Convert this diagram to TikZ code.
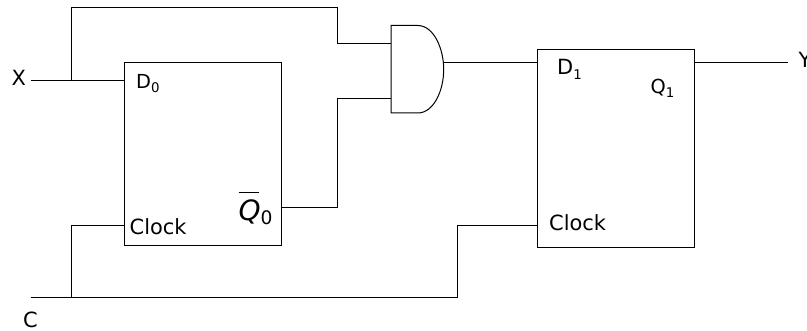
\documentclass[tikz,border=0pt]{standalone}
\usepackage{fontspec}
\setmainfont{DejaVu Sans}
\tikzset{
  ffbox/.style={draw, anchor=north west, inner sep=0pt, minimum width=117.6pt},
  wire/.style={line width=0.75pt},
  lbl/.style={anchor=base west, inner sep=0pt, font=\fontsize{15.7}{18}\selectfont},
  smalllbl/.style={anchor=base west, inner sep=0pt, font=\fontsize{14.5}{16}\selectfont},
}
\newcommand{\subidx}[1]{\raisebox{-0.35ex}{\fontsize{10}{11}\selectfont #1}}

\begin{document}
\begin{tikzpicture}[x=0.75pt, y=-0.75pt, wire]
\useasboundingbox (0.3,-0.5) rectangle (807.3,330.5);
% flip-flops
\node[ffbox, wire, minimum height=137pt] (ff0) at (124.5,61.5) {};
\node[ffbox, wire, minimum height=148.5pt] (ff1) at (537.5,48.5) {};
% and gate
\draw
     (391.5,25) coordinate (gate-top)
  -- (418,25)
  .. controls (434,25) and (444,48) .. (444,69)
  .. controls (444,90) and (434,112.5) .. (418,112.5)
  -- (391.5,112.5) coordinate (gate-bottom)
  -- cycle;
\coordinate (gate-out) at (444,61.7);
\coordinate (gate-a) at (391.5,43.3);
\coordinate (gate-b) at (391.5,98);
% free ends
\coordinate (x-in) at (31,80);
\coordinate (x-fork) at (71.5,80);
\coordinate (c-in) at (31,297);
\coordinate (c-fork) at (71.5,297);
\coordinate (y-out) at (788,61.7);
\coordinate (q0-out) at (281,206.7);
\coordinate (clk0) at (124.5,225);
\coordinate (clk1) at (537.5,225);
% wires
\draw (x-in) -- (x-fork -| ff0.west);
\draw (x-fork) |- (337.7,7) |- (gate-a);
\draw (q0-out) -| (337.7,98) -- (gate-b);
\draw (gate-out) -- (gate-out -| ff1.west);
\draw (y-out -| ff1.east) -- (y-out);
\draw (c-in) -| (458,225) -- (clk1);
\draw (c-fork) |- (clk0);
% labels
\node[lbl] (x-label) at (11.5,85) {X};
\node[lbl] (c-label) at (23,327) {C};
\node[lbl] (y-label) at (798.5,67) {Y};
\node[smalllbl] (d0-label) at (136,88.5) {D\subidx{0}};
\node[lbl] (clock0-label) at (129.5,234) {Clock};
\node[anchor=base west, inner sep=0pt] (q0-label) at (238.5,220)
  {\fontsize{21}{24}\selectfont\itshape\rlap{\raisebox{20.5pt}{\rule{15pt}{0.6pt}}}Q\raisebox{-0.25ex}{\upshape\fontsize{14}{16}\selectfont 0}};
\node[lbl] (d1-label) at (557,74.5) {D\subidx{1}};
\node[smalllbl] (q1-label) at (650.5,93) {Q\subidx{1}};
\node[lbl] (clock1-label) at (549,230.5) {Clock};
\end{tikzpicture}
\end{document}
